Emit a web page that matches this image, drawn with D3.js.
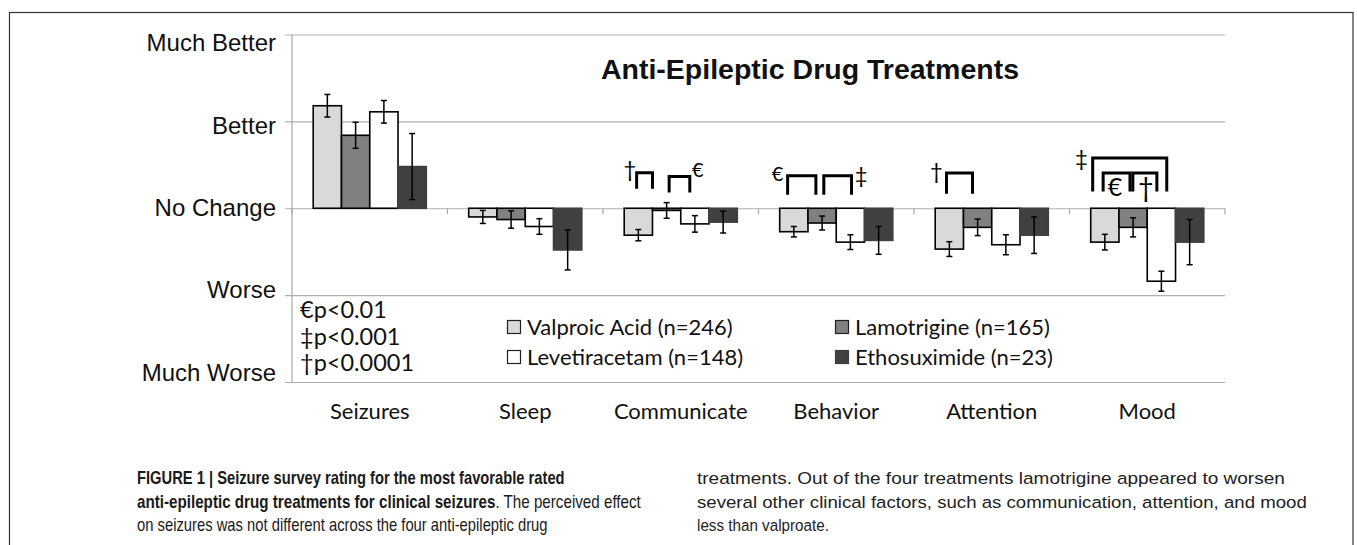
<!DOCTYPE html>
<html>
<head>
<meta charset="utf-8">
<script src="https://cdn.jsdelivr.net/npm/d3@7"></script>
<style>
  html, body { margin: 0; padding: 0; background: #fff; }
  svg { display: block; }
</style>
</head>
<body>
<svg id="chart" width="1357" height="545"></svg>
<script>
// ---------- DATA ----------
const categories = ["Seizures", "Sleep", "Communicate", "Behavior", "Attention", "Mood"];
const seriesNames = ["Valproic Acid (n=246)", "Lamotrigine (n=165)", "Levetiracetam (n=148)", "Ethosuximide (n=23)"];
const valproic        = [1.18, -0.10, -0.31, -0.27, -0.47, -0.39];
const valproicErr     = [0.13, 0.075, 0.065, 0.06, 0.085, 0.09];
const lamotrigine     = [0.84, -0.13, -0.025, -0.17, -0.22, -0.22];
const lamotrigineErr  = [0.15, 0.10, 0.09, 0.08, 0.095, 0.11];
const levetiracetam   = [1.11, -0.21, -0.18, -0.39, -0.42, -0.84];
const levetiracetamErr= [0.13, 0.09, 0.095, 0.085, 0.115, 0.115];
const ethosuximide    = [0.48, -0.48, -0.16, -0.37, -0.31, -0.39];
const ethosuximideErr = [0.38, 0.23, 0.125, 0.16, 0.21, 0.26];
const tickValues = [-2, -1, 0, 1, 2];
const tickLabels = ["Much Worse", "Worse", "No Change", "Better", "Much Better"];
const pLegend = ["€p<0.01", "‡p<0.001", "†p<0.0001"];
const chartTitle = "Anti-Epileptic Drug Treatments";
// significance brackets: category, slot range (bar index units), top & bottom (rating units)
const brackets = [
  {cat: "Communicate", from: -0.06, to: 0.50, top: 0.41, bottom: 0.224},
  {cat: "Communicate", from: 1.09, to: 1.82, top: 0.366, bottom: 0.18},
  {cat: "Behavior", from: -0.22, to: 0.78, top: 0.374, bottom: 0.155},
  {cat: "Behavior", from: 1.06, to: 2.04, top: 0.374, bottom: 0.155},
  {cat: "Attention", from: -0.10, to: 0.82, top: 0.405, bottom: 0.167},
  {cat: "Mood", from: -0.43, to: 2.19, top: 0.577, bottom: 0.193},
  {cat: "Mood", from: -0.06, to: 0.89, top: 0.405, bottom: 0.193},
  {cat: "Mood", from: 0.99, to: 1.84, top: 0.405, bottom: 0.193}
];
const symbols = [
  {cat: "Communicate", pos: -0.30, val: 0.443, sym: "†", size: 22},
  {cat: "Communicate", pos: 2.10, val: 0.443, sym: "€", size: 20},
  {cat: "Behavior", pos: -0.58, val: 0.397, sym: "€", size: 20},
  {cat: "Behavior", pos: 2.38, val: 0.374, sym: "‡", size: 22},
  {cat: "Attention", pos: -0.46, val: 0.42, sym: "†", size: 22},
  {cat: "Mood", pos: -0.83, val: 0.577, sym: "‡", size: 22},
  {cat: "Mood", pos: 0.36, val: 0.236, sym: "€", size: 25},
  {cat: "Mood", pos: 1.45, val: 0.236, sym: "†", size: 27}
];
const captionLeft = [
  [{t: "FIGURE 1 | Seizure survey rating for the most favorable rated", b: true}],
  [{t: "anti-epileptic drug treatments for clinical seizures", b: true}, {t: ". The perceived effect", b: false}],
  [{t: "on seizures was not different across the four anti-epileptic drug", b: false}]
];
const captionRight = [
  "treatments. Out of the four treatments lamotrigine appeared to worsen",
  "several other clinical factors, such as communication, attention, and mood",
  "less than valproate."
];

// ---------- STYLE ----------
const fills = ["#d9d9d9", "#808080", "#ffffff", "#404040"];
const strokes = ["#000", "#000", "#000", "#404040"];
const values = [valproic, lamotrigine, levetiracetam, ethosuximide];
const errs = [valproicErr, lamotrigineErr, levetiracetamErr, ethosuximideErr];
const calibri = "Lato, 'Open Sans', sans-serif";
const arial = "'Liberation Sans', Arial, sans-serif";

const svg = d3.select("#chart");

// outer frame
svg.append("rect").attr("x", 9.5).attr("y", 12.5).attr("width", 1343.5).attr("height", 600)
  .attr("fill", "none").attr("stroke", "#333").attr("stroke-width", 1.2);

const pL = 292, pR = 1225, pT = 34.5, pB = 382;
const x = d3.scaleBand().domain(categories).range([pL, pR]).paddingInner(0).paddingOuter(0);
const inner = d3.scaleBand().domain(d3.range(4)).range([0, x.bandwidth()]).paddingInner(0).paddingOuter(0.75);
const y = d3.scaleLinear().domain([-2, 2]).range([pB, pT]);
const labelY = d3.scaleLinear().domain([-2, 2]).range([pB - 10, pT + 8]);

// gridlines + left ticks
const grid = svg.append("g").attr("transform", `translate(${pL - 7},0)`)
  .call(d3.axisLeft(y).tickValues(tickValues).tickSize(-(pR - pL + 7)).tickFormat(""));
grid.select(".domain").remove();
grid.selectAll(".tick line").attr("stroke", "#b0b0b0").attr("stroke-width", 1.2);

// y axis line
svg.append("line").attr("x1", pL).attr("x2", pL).attr("y1", y(2)).attr("y2", y(-2))
  .attr("stroke", "#a8a8a8").attr("stroke-width", 1.2);

// y labels
svg.append("g").selectAll("text").data(tickValues).join("text")
  .attr("x", 276).attr("y", d => labelY(d)).attr("dy", "0.36em")
  .attr("text-anchor", "end").attr("font-family", arial).attr("font-size", 24).attr("fill", "#111")
  .text((d, i) => tickLabels[i]);

// x axis at zero with downward ticks at category boundaries
const bounds = categories.map(c => x(c)).concat([pR]);
svg.append("g").selectAll("line").data(bounds).join("line")
  .attr("x1", d => d).attr("x2", d => d).attr("y1", y(0)).attr("y2", y(0) + 6)
  .attr("stroke", "#a8a8a8").attr("stroke-width", 1.2);

// bars
const barG = svg.append("g");
values.forEach((vals, s) => {
  barG.append("g").selectAll("rect").data(vals).join("rect")
    .attr("x", (d, i) => x(categories[i]) + inner(s))
    .attr("width", inner.bandwidth())
    .attr("y", d => y(Math.max(0, d)))
    .attr("height", d => Math.abs(y(d) - y(0)))
    .attr("fill", fills[s]).attr("stroke", strokes[s]).attr("stroke-width", 1.6);
});

// error bars
const errG = svg.append("g").attr("stroke", "#000").attr("stroke-width", 1.5);
values.forEach((vals, s) => {
  vals.forEach((v, i) => {
    const cx = x(categories[i]) + inner(s) + inner.bandwidth() / 2;
    const e = errs[s][i];
    errG.append("line").attr("x1", cx).attr("x2", cx).attr("y1", y(v + e)).attr("y2", y(v - e));
    errG.append("line").attr("x1", cx - 3).attr("x2", cx + 3).attr("y1", y(v + e)).attr("y2", y(v + e));
    errG.append("line").attr("x1", cx - 3).attr("x2", cx + 3).attr("y1", y(v - e)).attr("y2", y(v - e));
  });
});

// title
svg.append("text").attr("x", 810).attr("y", 79).attr("text-anchor", "middle")
  .attr("font-family", arial).attr("font-weight", "bold").attr("font-size", 28.5).attr("fill", "#111")
  .text(chartTitle);

// category labels
svg.append("g").selectAll("text").data(categories).join("text")
  .attr("x", d => x(d) + x.bandwidth() / 2).attr("y", 419).attr("text-anchor", "middle")
  .attr("font-family", calibri).attr("font-size", 22).attr("fill", "#111").text(d => d);

// significance brackets
const slotX = (cat, pos) => x(cat) + inner(0) + inner.bandwidth() / 2 + pos * inner.step();
svg.append("g").selectAll("path").data(brackets).join("path")
  .attr("d", d => `M${slotX(d.cat, d.from)},${y(d.bottom)}V${y(d.top)}H${slotX(d.cat, d.to)}V${y(d.bottom)}`)
  .attr("fill", "none").attr("stroke", "#000").attr("stroke-width", 3);
svg.append("g").selectAll("text").data(symbols).join("text")
  .attr("x", d => slotX(d.cat, d.pos)).attr("y", d => y(d.val)).attr("dy", "0.35em")
  .attr("text-anchor", "middle").attr("font-family", calibri).attr("font-size", d => d.size)
  .attr("fill", "#000").text(d => d.sym);

// p-value legend
svg.append("g").selectAll("text").data(pLegend).join("text")
  .attr("x", 300).attr("y", (d, i) => 318 + i * 26.5)
  .attr("font-family", calibri).attr("font-size", 23.5).attr("fill", "#111").text(d => d);

// series legend
const legPos = [[507, 327], [835, 327], [507, 357], [835, 357]];
const leg = svg.append("g").selectAll("g").data(seriesNames).join("g")
  .attr("transform", (d, i) => `translate(${legPos[i][0]},${legPos[i][1]})`);
leg.append("rect").attr("x", 0.5).attr("y", -6.5).attr("width", 13).attr("height", 13)
  .attr("fill", (d, i) => fills[i]).attr("stroke", (d, i) => i === 3 ? fills[3] : "#222").attr("stroke-width", 1.2);
leg.append("text").attr("x", 20).attr("y", 0).attr("dy", "0.35em")
  .attr("font-family", calibri).attr("font-size", 22).attr("fill", "#111").text(d => d);

// caption (each line horizontally scaled to the reference line width)
function fitLine(g, xPos, yPos, segs, target) {
  const lg = g.append("g").attr("transform", `translate(${xPos},${yPos})`);
  const t = lg.append("text").attr("x", 0).attr("y", 0);
  segs.forEach(seg => t.append("tspan").attr("font-weight", seg.b ? "bold" : "normal").text(seg.t));
  const w = t.node().getComputedTextLength();
  lg.attr("transform", `translate(${xPos},${yPos}) scale(${target / w},1)`);
}
const capL = svg.append("g").attr("font-family", arial).attr("font-size", 17.5).attr("fill", "#1a1a1a");
const leftWidths = [428, 504, 411];
captionLeft.forEach((line, i) => fitLine(capL, 137, 484 + i * 23.5, line, leftWidths[i]));
const capR = svg.append("g").attr("font-family", arial).attr("font-size", 17).attr("fill", "#222");
const rightWidths = [588, 610, 132];
captionRight.forEach((line, i) => fitLine(capR, 697, 484 + i * 23.5, [{t: line, b: false}], rightWidths[i]));
</script>
</body>
</html>
